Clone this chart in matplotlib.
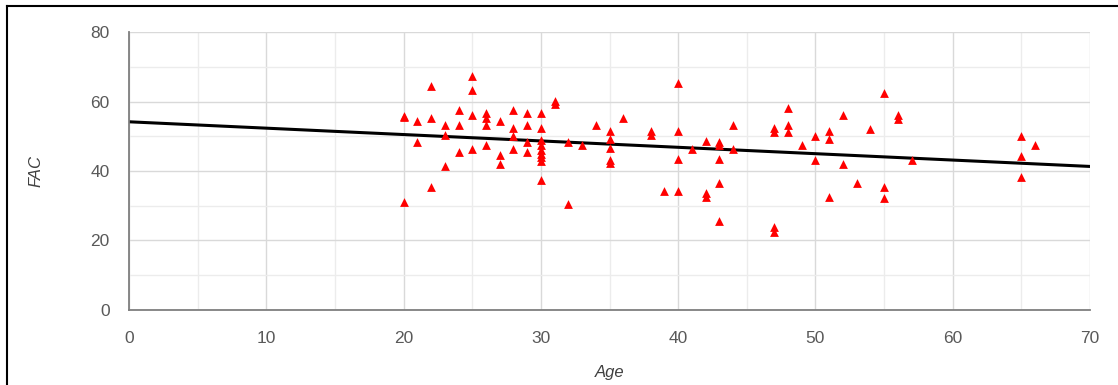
import matplotlib.pyplot as plt
from matplotlib.lines import Line2D
from matplotlib.ticker import MultipleLocator

# Age vs FAC values
age = [20, 20, 20,
       21, 21,
       22, 22, 22,
       23, 23, 23,
       24, 24, 24,
       25, 25, 25, 25,
       26, 26, 26, 26,
       27, 27, 27,
       28, 28, 28, 28,
       29, 29, 29, 29,
       30, 30, 30, 30, 30, 30, 30, 30, 30,
       31, 31,
       32, 32,
       33, 34,
       35, 35, 35, 35, 35,
       36,
       38, 38,
       39,
       40, 40, 40, 40,
       41,
       42, 42, 42,
       43, 43, 43, 43, 43,
       44, 44,
       47, 47, 47, 47,
       48, 48, 48,
       49,
       50, 50,
       51, 51, 51,
       52, 52,
       53, 54,
       55, 55, 55,
       56, 56,
       57,
       65, 65, 65,
       66]
fac = [31, 55.5, 56,
       54.4, 48.4,
       64.5, 55.4, 35.4,
       53.4, 50.5, 41.4,
       57.6, 53.4, 45.4,
       67.4, 63.3, 56.3, 46.4,
       56.6, 55.4, 53.4, 47.4,
       54.4, 44.5, 42.1,
       57.6, 52.5, 50.2, 46.4,
       56.6, 53.4, 48.3, 45.4,
       56.6, 52.5, 49, 47.5, 46, 45, 44, 43, 37.5,
       60.2, 59.2,
       48.4, 30.5,
       47.4, 53.4,
       51.5, 49.1, 46.5, 43.3, 42.4,
       55.4,
       51.5, 50.5,
       34.3,
       65.5, 51.5, 43.5, 34.3,
       46.4,
       48.6, 33.8, 32.6,
       48.3, 47.4, 43.5, 36.4, 25.5,
       53.4, 46.4,
       52.5, 51.2, 23.9, 22.5,
       58.3, 53.4, 51.2,
       47.6,
       50.2, 43.3,
       51.5, 49.1, 32.5,
       56.3, 42.1,
       36.4, 52.2,
       62.4, 35.4, 32.2,
       56.3, 55.1,
       43.3,
       50.2, 44.3, 38.3,
       47.4]

# linear trend line
trend_intercept = 54.2
trend_slope = -0.184
trend_x = [0, 70]

plt.rcParams['font.family'] = ['Liberation Sans', 'DejaVu Sans']
text_color = '#595959'

fig = plt.figure(figsize=(11.18, 3.85), dpi=100)
ax = fig.add_axes([0.1154, 0.1956, 0.8596, 0.7204])

ax.plot(trend_x, [trend_intercept + trend_slope * x for x in trend_x],
        color='black', linewidth=2.2, zorder=2)
ax.scatter(age, fac, marker='^', color='#ff0000', s=40, linewidths=0, zorder=3)

ax.set_xlim(0, 70)
ax.set_ylim(0, 80)
ax.xaxis.set_major_locator(MultipleLocator(10))
ax.xaxis.set_minor_locator(MultipleLocator(5))
ax.yaxis.set_major_locator(MultipleLocator(20))
ax.yaxis.set_minor_locator(MultipleLocator(10))
ax.grid(which='major', color='#d9d9d9', linewidth=1.0, zorder=0)
ax.grid(which='minor', color='#ececec', linewidth=1.0, zorder=0)
ax.set_axisbelow(True)

for s in ['top', 'right']:
    ax.spines[s].set_visible(False)
for s in ['left', 'bottom']:
    ax.spines[s].set_color('#7f7f7f')
    ax.spines[s].set_linewidth(1.3)

ax.tick_params(which='both', length=0, labelsize=12.5, colors=text_color)
ax.tick_params(axis='x', pad=15)
ax.tick_params(axis='y', pad=14)

ax.set_xlabel('Age', fontsize=12, style='italic', color='#404040', labelpad=14)
ax.set_ylabel('FAC', fontsize=12, style='italic', color='#404040', labelpad=34)

# outer frame (top and left edges visible in the reference)
fig.add_artist(Line2D([7 / 1118, 7 / 1118], [0, 1 - 6 / 385],
                      transform=fig.transFigure, color='black', linewidth=1.5))
fig.add_artist(Line2D([7 / 1118, 1], [1 - 6 / 385, 1 - 6 / 385],
                      transform=fig.transFigure, color='black', linewidth=1.5))

fig.savefig('out.png', dpi=100)
